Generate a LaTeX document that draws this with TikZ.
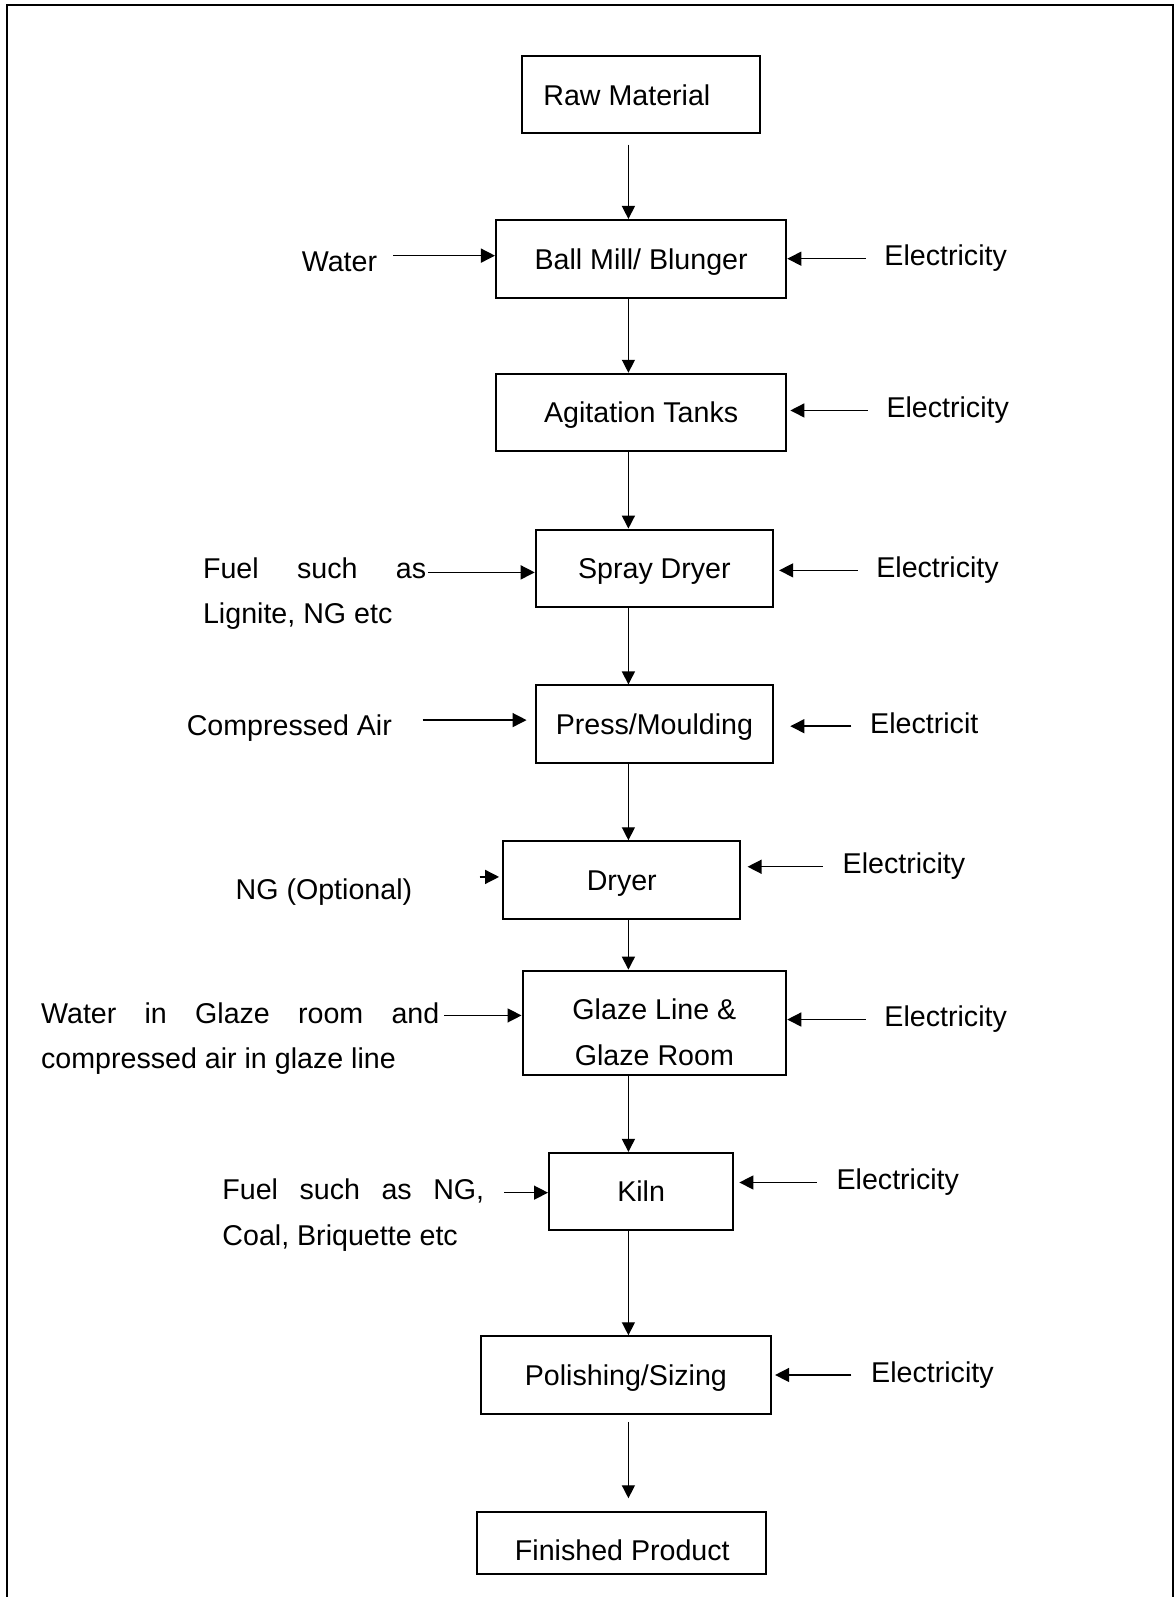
\documentclass[tikz,border=0pt]{standalone}
\usepackage{fontspec}
\setmainfont{Liberation Sans}
\usetikzlibrary{arrows.meta,calc}
\newcommand\fs{\fontsize{14.3pt}{22.9pt}\selectfont}
\begin{document}
\begin{tikzpicture}[x=0.509pt,y=-0.509pt,
 txt/.style={font=\fs, inner sep=0pt, text height=12.9pt, text depth=2.6pt},
 box/.style={txt, draw, line width=1pt, minimum height=38.7pt},
 arr/.style={line width=0.7pt, -{Triangle[length=6.5pt,width=6.5pt]}},
 sarr/.style={line width=0.7pt, -{Triangle[length=7pt,width=7pt]}},
 lab/.style={txt, anchor=west},
 lab2/.style={txt, anchor=north west, align=left}]
\useasboundingbox (0,0) rectangle (1154,1568);
\draw[line width=0.9pt] (7,1568) -- (7,5) -- (1152,5) -- (1152,1568);

% process boxes
\node[box, minimum width=118.6pt] (raw) at (629.5,93) {};
\node[txt] (rawt) at (615.5,93) {Raw Material};
\node[box, minimum width=145.1pt, minimum height=39.2pt] (ball) at (629.5,254.5) {Ball Mill/ Blunger};
\node[box, minimum width=145.1pt] (agit) at (629.5,405) {Agitation Tanks};
\node[box, minimum width=118.6pt] (spray) at (642.5,558) {Spray Dryer};
\node[box, minimum width=118.6pt] (press) at (642.5,711) {Press/Moulding};
\node[box, minimum width=118.6pt] (dryer) at (610.5,864) {Dryer};
\node[box, minimum width=131.8pt, minimum height=51.9pt] (glaze) at (642.5,1004) {};
\node[txt, align=center] (glazet) at (642.5,1036) {Glaze Line \&\\Glaze Room};
\node[box, minimum width=92.1pt] (kiln) at (629.5,1170) {Kiln};
\node[box, minimum width=145.1pt] (polish) at (614.5,1350) {Polishing/Sizing};
\node[box, minimum width=144.6pt, minimum height=31pt] (fin) at (610,1514.5) {};
\node[txt] (fint) at (611,1522) {Finished Product};

% main flow
\coordinate (ax) at (617,0);
\draw[arr] ($(raw.south -| ax)+(0,10)$) -- (ball.north -| ax);
\draw[arr] (ball.south -| ax) -- (agit.north -| ax);
\draw[arr] (agit.south -| ax) -- (spray.north -| ax);
\draw[arr] (spray.south -| ax) -- (press.north -| ax);
\draw[arr] (press.south -| ax) -- (dryer.north -| ax);
\draw[arr] (dryer.south -| ax) -- (glaze.north -| ax);
\draw[arr] (glaze.south -| ax) -- (kiln.north -| ax);
\draw[arr] (kiln.south -| ax) -- (polish.north -| ax);
\draw[arr] ($(polish.south -| ax)+(0,7)$) -- ($(fin.north -| ax)+(0,-12)$);

% side inputs
\coordinate (w0) at (386,251); \draw[sarr] (w0) -- (w0 -| ball.west);
\coordinate (e1) at (850,254); \draw[sarr] (e1) -- (e1 -| ball.east);
\coordinate (e2) at (852,403); \draw[sarr] (e2) -- ($(e2 -| agit.east)+(3,0)$);
\coordinate (f1) at (420,562); \draw[sarr] (f1) -- (f1 -| spray.west);
\coordinate (e3) at (842,560); \draw[sarr] (e3) -- ($(e3 -| spray.east)+(5,0)$);
\coordinate (c1) at (415,707); \draw[sarr] (c1) -- ($(c1 -| press.west)+(-8,0)$);
\coordinate (e4) at (836,713); \draw[sarr] (e4) -- ($(e4 -| press.east)+(16,0)$);
\coordinate (n1) at (471,861); \draw[sarr] (n1) -- ($(n1 -| dryer.west)+(-3,0)$);
\coordinate (e5) at (808,851); \draw[sarr] (e5) -- ($(e5 -| dryer.east)+(6,0)$);
\coordinate (g1) at (436,997); \draw[sarr] (g1) -- (g1 -| glaze.west);
\coordinate (e6) at (850,1001); \draw[sarr] (e6) -- (e6 -| glaze.east);
\coordinate (k1) at (495,1171); \draw[sarr] (k1) -- (k1 -| kiln.west);
\coordinate (e7) at (802,1161); \draw[sarr] (e7) -- ($(e7 -| kiln.east)+(5,0)$);
\coordinate (e8) at (836,1350); \draw[sarr] (e8) -- ($(e8 -| polish.east)+(3,0)$);

% labels
\node[lab] (water) at (296,256) {Water};
\node[lab] (el1) at (868,251) {Electricity};
\node[lab] (el2) at (870,400) {Electricity};
\node[lab2] (fuel1) at (199,586.8) {\makebox[111.5pt][s]{Fuel\hfill such\hfill as}\\Lignite, NG etc};
\node[lab] (el3) at (860,557) {Electricity};
\node[lab] (comp) at (183,712) {Compressed Air};
\node[lab] (el4) at (854,710) {Electricit};
\node[lab] (ng) at (231,873) {NG (Optional)};
\node[lab] (el5) at (827,848) {Electricity};
\node[lab2] (wg) at (40,1023.8) {\makebox[199pt][s]{Water\hfill in\hfill Glaze\hfill room\hfill and}\\compressed air in glaze line};
\node[lab] (el6) at (868,998) {Electricity};
\node[lab2] (fk) at (218,1196.8) {\makebox[130.8pt][s]{Fuel\hfill such\hfill as\hfill NG,}\\Coal, Briquette etc};
\node[lab] (el7) at (821,1158) {Electricity};
\node[lab] (el8) at (855,1347) {Electricity};
\end{tikzpicture}
\end{document}
